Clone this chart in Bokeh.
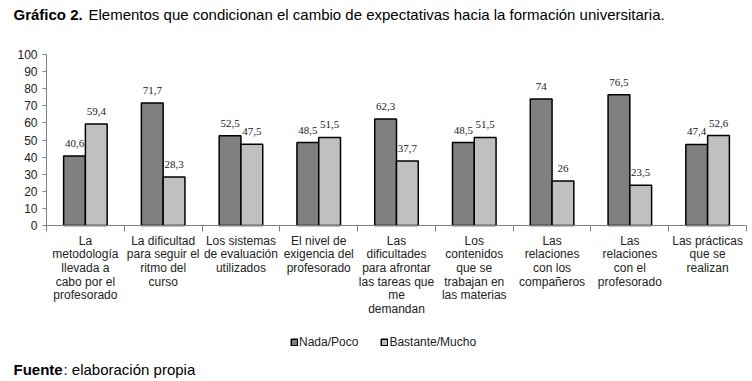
from bokeh.plotting import figure
from bokeh.models import (Range1d, FixedTicker, LinearAxis, Label, LabelSet,
                          ColumnDataSource, Legend, LegendItem)
from bokeh.transform import dodge
from bokeh.embed import file_html
from bokeh.resources import INLINE

categories = [
    "La\nmetodología\nllevada a\ncabo por el\nprofesorado",
    "La dificultad\npara seguir el\nritmo del\ncurso",
    "Los sistemas\nde evaluación\nutilizados",
    "El nivel de\nexigencia del\nprofesorado",
    "Las\ndificultades\npara afrontar\nlas tareas que\nme\ndemandan",
    "Los\ncontenidos\nque se\ntrabajan en\nlas materias",
    "Las\nrelaciones\ncon los\ncompañeros",
    "Las\nrelaciones\ncon el\nprofesorado",
    "Las prácticas\nque se\nrealizan",
]
nada_poco = [40.6, 71.7, 52.5, 48.5, 62.3, 48.5, 74, 76.5, 47.4]
bastante_mucho = [59.4, 28.3, 47.5, 51.5, 37.7, 51.5, 26, 23.5, 52.6]
series_names = ["Nada/Poco", "Bastante/Mucho"]
y_ticks = list(range(0, 101, 10))

FONT = "Liberation Sans"

# ---- layout (pixels)
W, H = 750, 379
AX_LEFT, AX_RIGHT = 46, 746      # x extent of the category axis
Y0_PX, Y100_PX = 225, 54         # vertical pixel of y=0 and y=100
n = len(categories)
u = (AX_RIGHT - AX_LEFT) / n     # px per category
k = (Y0_PX - Y100_PX) / 100.0    # px per value unit
x_range = Range1d(-0.5 - AX_LEFT / u, -0.5 + (W - AX_LEFT) / u)
y_range = Range1d(-(H - Y0_PX) / k, 100 + Y100_PX / k)


def fmt(v):
    return ("%g" % v).replace(".", ",")


idx = list(range(n))
src = ColumnDataSource(dict(
    x=idx,
    a=nada_poco, b=bastante_mucho,
    at=[fmt(v) for v in nada_poco], bt=[fmt(v) for v in bastante_mucho],
))

p = figure(width=W, height=H, x_range=x_range, y_range=y_range,
           output_backend="svg", toolbar_location=None,
           x_axis_type=None, y_axis_type=None,
           min_border_left=0, min_border_right=0, min_border_top=0,
           min_border_bottom=0)
p.outline_line_color = None
p.xgrid.visible = False
p.ygrid.visible = False

r1 = p.vbar(x=dodge("x", -0.14, range=p.x_range), top="a", width=0.28, source=src,
            fill_color="#808080", line_color="#000000", line_width=1.5)
r2 = p.vbar(x=dodge("x", 0.14, range=p.x_range), top="b", width=0.28, source=src,
            fill_color="#C0C0C0", line_color="#000000", line_width=1.5)

for col, txt, off in (("a", "at", -0.14), ("b", "bt", 0.14)):
    p.add_layout(LabelSet(x=dodge("x", off, range=p.x_range), y=col, text=txt, source=src,
                          text_align="center", text_baseline="bottom", y_offset=9,
                          text_font=FONT, text_font_size="11px", text_color="#222222"))

yaxis = LinearAxis(ticker=FixedTicker(ticks=y_ticks), fixed_location=-0.5, bounds=(0, 100))
yaxis.axis_line_color = "#808080"
yaxis.major_tick_line_color = "#808080"
yaxis.major_tick_in = 0
yaxis.major_tick_out = 4
yaxis.minor_tick_line_color = None
yaxis.major_label_standoff = 5
yaxis.major_label_text_font = FONT
yaxis.major_label_text_font_size = "12px"
yaxis.major_label_text_color = "#222222"
p.add_layout(yaxis, "left")

xaxis = LinearAxis(ticker=FixedTicker(ticks=idx, minor_ticks=[i - 0.5 for i in range(n + 1)]),
                   major_label_overrides={i: c for i, c in zip(idx, categories)},
                   fixed_location=0, bounds=(-0.5, n - 0.5))
xaxis.axis_line_color = "#808080"
xaxis.major_tick_line_color = None
xaxis.major_tick_in = 0
xaxis.major_tick_out = 0
xaxis.minor_tick_line_color = "#808080"
xaxis.minor_tick_in = 0
xaxis.minor_tick_out = 6
xaxis.major_label_standoff = 2
xaxis.major_label_text_font = FONT
xaxis.major_label_text_font_size = "12px"
xaxis.major_label_text_color = "#222222"
xaxis.major_label_text_line_height = 0.98
p.add_layout(xaxis, "below")

legend = Legend(items=[LegendItem(label=series_names[0], renderers=[r1]),
                       LegendItem(label=series_names[1], renderers=[r2])],
                orientation="horizontal", location=(290, H - 349),
                glyph_width=8, glyph_height=8, label_standoff=1, spacing=22,
                padding=0, margin=0, border_line_color=None, background_fill_alpha=0,
                label_text_font=FONT, label_text_font_size="12px",
                label_text_color="#222222")
p.add_layout(legend)

# title and source lines (screen units, origin bottom-left of the canvas)
p.add_layout(Label(x=13, y=H - 14, x_units="screen", y_units="screen", text="Gráfico 2.",
                   text_baseline="middle", text_font=FONT, text_font_size="15px",
                   text_font_style="bold", text_color="#000000"))
p.add_layout(Label(x=88, y=H - 14, x_units="screen", y_units="screen",
                   text="Elementos que condicionan el cambio de expectativas hacia la formación universitaria.",
                   text_baseline="middle", text_font=FONT, text_font_size="15px",
                   text_color="#000000"))
p.add_layout(Label(x=13, y=H - 369, x_units="screen", y_units="screen", text="Fuente",
                   text_baseline="middle", text_font=FONT, text_font_size="15px",
                   text_font_style="bold", text_color="#000000"))
p.add_layout(Label(x=63, y=H - 369, x_units="screen", y_units="screen",
                   text=": elaboración propia",
                   text_baseline="middle", text_font=FONT, text_font_size="15px",
                   text_color="#000000"))

open("out.html", "w").write(file_html(p, INLINE))
